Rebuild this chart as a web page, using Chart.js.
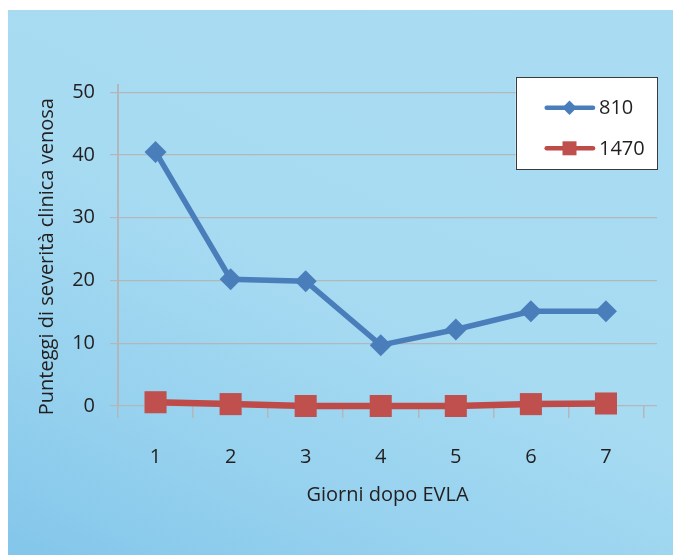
<!DOCTYPE html>
<html>
<head>
<meta charset="utf-8">
<script src="https://cdn.jsdelivr.net/npm/chart.js@4.4.1/dist/chart.umd.min.js"></script>
<style>
  html, body { margin: 0; padding: 0; background: #ffffff; }
  #wrap { position: relative; width: 673px; height: 555px; overflow: hidden; }
  #panel {
    position: absolute; left: 8px; top: 10px; right: 0; bottom: 0;
    background: linear-gradient(205deg, #a9dcf3 0%, #a7dbf2 50%, #94d0ee 80%, #83c6ea 100%);
  }
  canvas { position: absolute; left: 0; top: 0; }
</style>
</head>
<body>
<div id="wrap">
  <div id="panel"></div>
  <canvas id="chart" width="673" height="555"></canvas>
</div>
<script>
// Days after the procedure and the two laser wavelength series
const days = [1, 2, 3, 4, 5, 6, 7];
const seriesLabels = ['810', '1470'];
const values810 = [40.5, 20.2, 19.9, 9.7, 12.2, 15.1, 15.1];
const values1470 = [0.6, 0.3, 0, 0, 0, 0.3, 0.4];
const yTickValues = [0, 10, 20, 30, 40, 50];
const xTitle = 'Giorni dopo EVLA';
const yTitle = 'Punteggi di severità clinica venosa';

const textColor = '#231f20';
const gridColor = '#b3b7ba';
const fontFamily = '"Open Sans", "Noto Sans", sans-serif';
const baseFont = { family: fontFamily, size: 20 };

// Category boundaries (half-steps) carry the tick marks, whole days carry the labels
const xTickValues = [];
for (let i = 0; i <= days.length; i++) {
  xTickValues.push(days[0] - 0.5 + i);
  if (i < days.length) xTickValues.push(days[i]);
}

// Rotated title for the value axis
const valueAxisTitle = {
  id: 'valueAxisTitle',
  afterDraw(chart) {
    const ctx = chart.ctx;
    ctx.save();
    ctx.translate(53, 256.7);
    ctx.rotate(-Math.PI / 2);
    ctx.font = `${baseFont.size}px ${fontFamily}`;
    ctx.fillStyle = textColor;
    ctx.textAlign = 'center';
    ctx.textBaseline = 'alphabetic';
    ctx.fillText(yTitle, 0, 0);
    ctx.restore();
  }
};

// Boxed legend in the upper right corner of the plot
const boxLegend = {
  id: 'boxLegend',
  afterDraw(chart) {
    const ctx = chart.ctx;
    const w = 141.3, h = 91.7;
    const left = chart.chartArea.right - w;
    const top = 77.3;
    ctx.save();
    ctx.fillStyle = '#ffffff';
    ctx.fillRect(left, top, w, h);
    ctx.strokeStyle = '#3a3a3a';
    ctx.lineWidth = 1;
    ctx.strokeRect(Math.round(left) + 0.5, Math.round(top) + 0.5, Math.round(w), Math.round(h));
    chart.data.datasets.forEach((ds, i) => {
      const y = top + 30.4 + i * 40.6;
      const x0 = left + 31, x1 = left + 77.3, xm = left + 53.8;
      ctx.strokeStyle = ds.borderColor;
      ctx.lineWidth = 4.5;
      ctx.lineCap = 'round';
      ctx.beginPath();
      ctx.moveTo(x0, y);
      ctx.lineTo(x1, y);
      ctx.stroke();
      ctx.fillStyle = ds.pointBackgroundColor;
      ctx.beginPath();
      if (ds.pointStyle === 'rectRot') {
        const r = 7.2;
        ctx.moveTo(xm - r, y);
        ctx.lineTo(xm, y - r);
        ctx.lineTo(xm + r, y);
        ctx.lineTo(xm, y + r);
        ctx.closePath();
      } else {
        const s = 7;
        ctx.rect(xm - s, y - s, 2 * s, 2 * s);
      }
      ctx.fill();
      ctx.fillStyle = textColor;
      ctx.font = `${baseFont.size}px ${fontFamily}`;
      ctx.textAlign = 'left';
      ctx.textBaseline = 'middle';
      ctx.fillText(ds.label, left + 83.3, y + 1);
    });
    ctx.restore();
  }
};

const toPoints = vals => days.map((d, i) => ({ x: d, y: vals[i] }));

new Chart(document.getElementById('chart'), {
  type: 'line',
  data: {
    datasets: [
      {
        label: seriesLabels[0],
        data: toPoints(values810),
        borderColor: '#4a7ebb',
        backgroundColor: '#4a7ebb',
        pointBackgroundColor: '#4a7ebb',
        borderWidth: 5.5,
        pointStyle: 'rectRot',
        pointRadius: 11,
        pointBorderWidth: 0,
        tension: 0,
        clip: false
      },
      {
        label: seriesLabels[1],
        data: toPoints(values1470),
        borderColor: '#be4b48',
        backgroundColor: '#c0504d',
        pointBackgroundColor: '#c0504d',
        borderWidth: 6.5,
        pointStyle: 'rect',
        pointRadius: 15.6,
        pointBorderWidth: 0,
        tension: 0,
        clip: false
      }
    ]
  },
  options: {
    responsive: false,
    animation: false,
    events: [],
    layout: { padding: { left: 0, top: 85, right: 16, bottom: 0 } },
    plugins: {
      legend: { display: false },
      tooltip: { enabled: false }
    },
    scales: {
      x: {
        type: 'linear',
        min: 0.5,
        max: 7.68,
        afterBuildTicks: s => { s.ticks = xTickValues.map(v => ({ value: v })); },
        afterFit: s => { s.height = 149; },
        border: { display: false },
        grid: {
          drawOnChartArea: false,
          drawTicks: true,
          tickLength: 12,
          lineWidth: 1.5,
          tickColor: c => (c.tick && Number.isInteger(c.tick.value)) ? 'rgba(0,0,0,0)' : gridColor
        },
        ticks: {
          autoSkip: false,
          maxRotation: 0,
          padding: 27,
          color: textColor,
          font: baseFont,
          callback: v => Number.isInteger(v) ? String(days[v - 1]) : ''
        },
        title: {
          display: true,
          text: xTitle,
          color: textColor,
          font: baseFont,
          padding: { top: 0, bottom: 48 }
        }
      },
      y: {
        min: 0,
        max: 51.16,
        afterBuildTicks: s => { s.ticks = yTickValues.map(v => ({ value: v })); },
        afterFit: s => { s.width = 118; },
        border: { color: gridColor, width: 2 },
        grid: {
          color: gridColor,
          lineWidth: 1.2,
          tickLength: 8,
          tickColor: gridColor
        },
        ticks: {
          padding: 15,
          color: textColor,
          font: baseFont
        }
      }
    }
  },
  plugins: [valueAxisTitle, boxLegend]
});
</script>
</body>
</html>
